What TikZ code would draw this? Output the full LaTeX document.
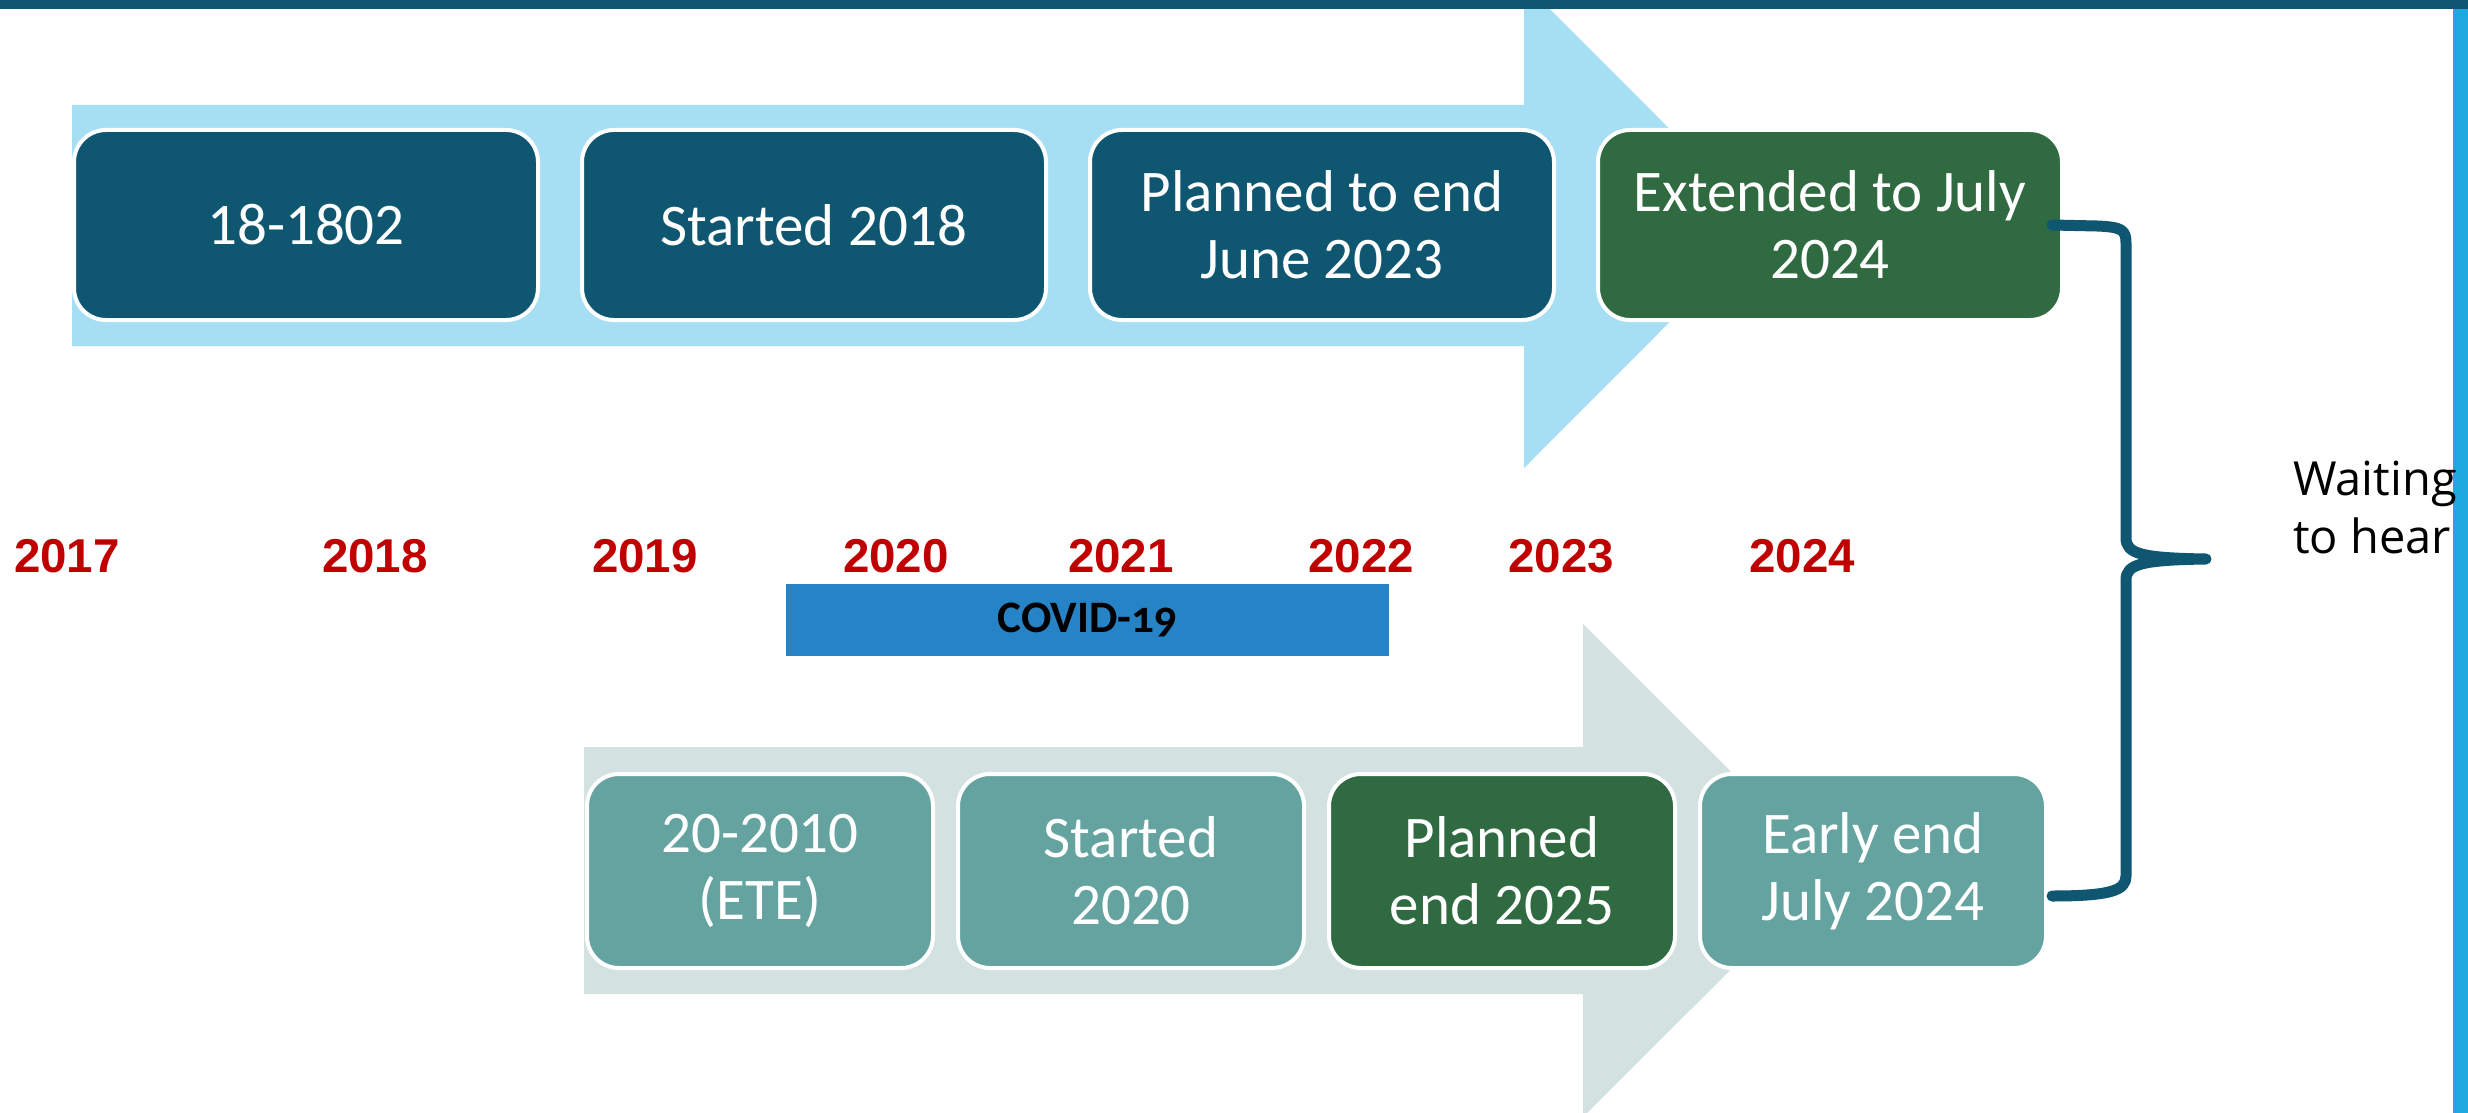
\documentclass[tikz,border=0pt]{standalone}
\usepackage{fontspec}
\newfontfamily\carlito{Carlito}
\newfontfamily\covidfam{Carlito}[Numbers=OldStyle]
\newfontfamily\arialfam{Liberation Sans}
\newfontfamily\opensans{Open Sans}
\definecolor{teal}{HTML}{0F5771}
\definecolor{dgreen}{HTML}{2F6A41}
\definecolor{lteal}{HTML}{64A39F}
\definecolor{lblue}{HTML}{A6DFF4}
\definecolor{lgray}{HTML}{D4E1E1}
\definecolor{covidblue}{HTML}{2683C6}
\definecolor{yearred}{HTML}{C00000}
\definecolor{sideblue}{HTML}{1FA9E1}
\tikzset{
  boxtext/.style={rounded corners=32pt, draw=white, line width=4pt, inner sep=0pt,
    text=white, align=center, font=\carlito\fontsize{59}{67}\selectfont},
  topbox/.style={boxtext, minimum width=464pt, minimum height=190pt},
  botbox/.style={boxtext, minimum width=346pt, minimum height=194pt},
  yearlbl/.style={anchor=base, text=yearred, inner sep=0pt,
    font=\arialfam\bfseries\fontsize{47.5}{50}\selectfont},
  bracepath/.style={draw=teal, line width=11pt, line cap=round, line join=round}
}
\begin{document}
\begin{tikzpicture}[x=1pt,y=-1pt]
\clip (0,0) rectangle (2468,1113);
\fill[white] (0,0) rectangle (2468,1113);
% background arrows
\fill[lblue] (72,105) -- (1524,105) -- (1524,-17) -- (1766,225.5) -- (1524,468) -- (1524,346) -- (72,346) -- cycle;
\fill[lgray] (584,747) -- (1583,747) -- (1583,624) -- (1830,870.5) -- (1583,1117) -- (1583,994) -- (584,994) -- cycle;
% top boxes
\node[topbox, fill=teal] (t1) at (306,225) {18-1802};
\node[topbox, fill=teal] (t2) at (814,225) {Started 2018};
\node[topbox, fill=teal] (t3) at (1322,225) {Planned to end\\June 2023};
\node[topbox, fill=dgreen] (t4) at (1830,225) {Extended to July\\2024};
% bottom boxes
\node[botbox, fill=lteal] (b1) at (760,871) {20-2010\\(ETE)};
\node[botbox, fill=lteal] (b2) at (1131,871) {Started\\2020};
\node[botbox, fill=dgreen] (b3) at (1502,871) {Planned\\end 2025};
\node[botbox, fill=lteal] (b4) at (1873,871) {Early end\\July 2024};
% years
\node[yearlbl] (y2017) at (67,572) {2017};
\node[yearlbl] (y2018) at (375,572) {2018};
\node[yearlbl] (y2019) at (645,572) {2019};
\node[yearlbl] (y2020) at (896,572) {2020};
\node[yearlbl] (y2021) at (1121,572) {2021};
\node[yearlbl] (y2022) at (1361,572) {2022};
\node[yearlbl] (y2023) at (1561,572) {2023};
\node[yearlbl] (y2024) at (1802,572) {2024};
% covid
\node[fill=covidblue, minimum width=603pt, minimum height=72pt, inner sep=0pt,
  font=\covidfam\bfseries\fontsize{45}{47}\selectfont] (covid) at (1087.5,620) {COVID-19};
% brace
\coordinate (bt) at ([xshift=-12pt]t4.east);
\coordinate (bb) at ([xshift=4pt,yshift=-25pt]b4.east);
\draw[bracepath] (bt) -- ++(45,1)
  .. controls +(25,1) and +(0,-13) .. ++(29,17)
  -- ++(0,295)
  .. controls +(0,16) and +(-64,-1) .. ++(80,21)
  .. controls +(-64,1) and +(0,-16) .. ++(-80,21)
  -- ++(0,296)
  .. controls +(0,14) and +(60,0) .. (bb);
% frame bars
\fill[teal] (0,0) rectangle (2468,9);
\fill[sideblue] (2453,9) rectangle (2468,1113);
% waiting text (drawn over the side bar)
\node[anchor=west, align=left, inner sep=0pt,
  font=\opensans\fontsize{47}{58}\selectfont] (wait) at (2293,507) {Waiting\\to hear};
\end{tikzpicture}
\end{document}
